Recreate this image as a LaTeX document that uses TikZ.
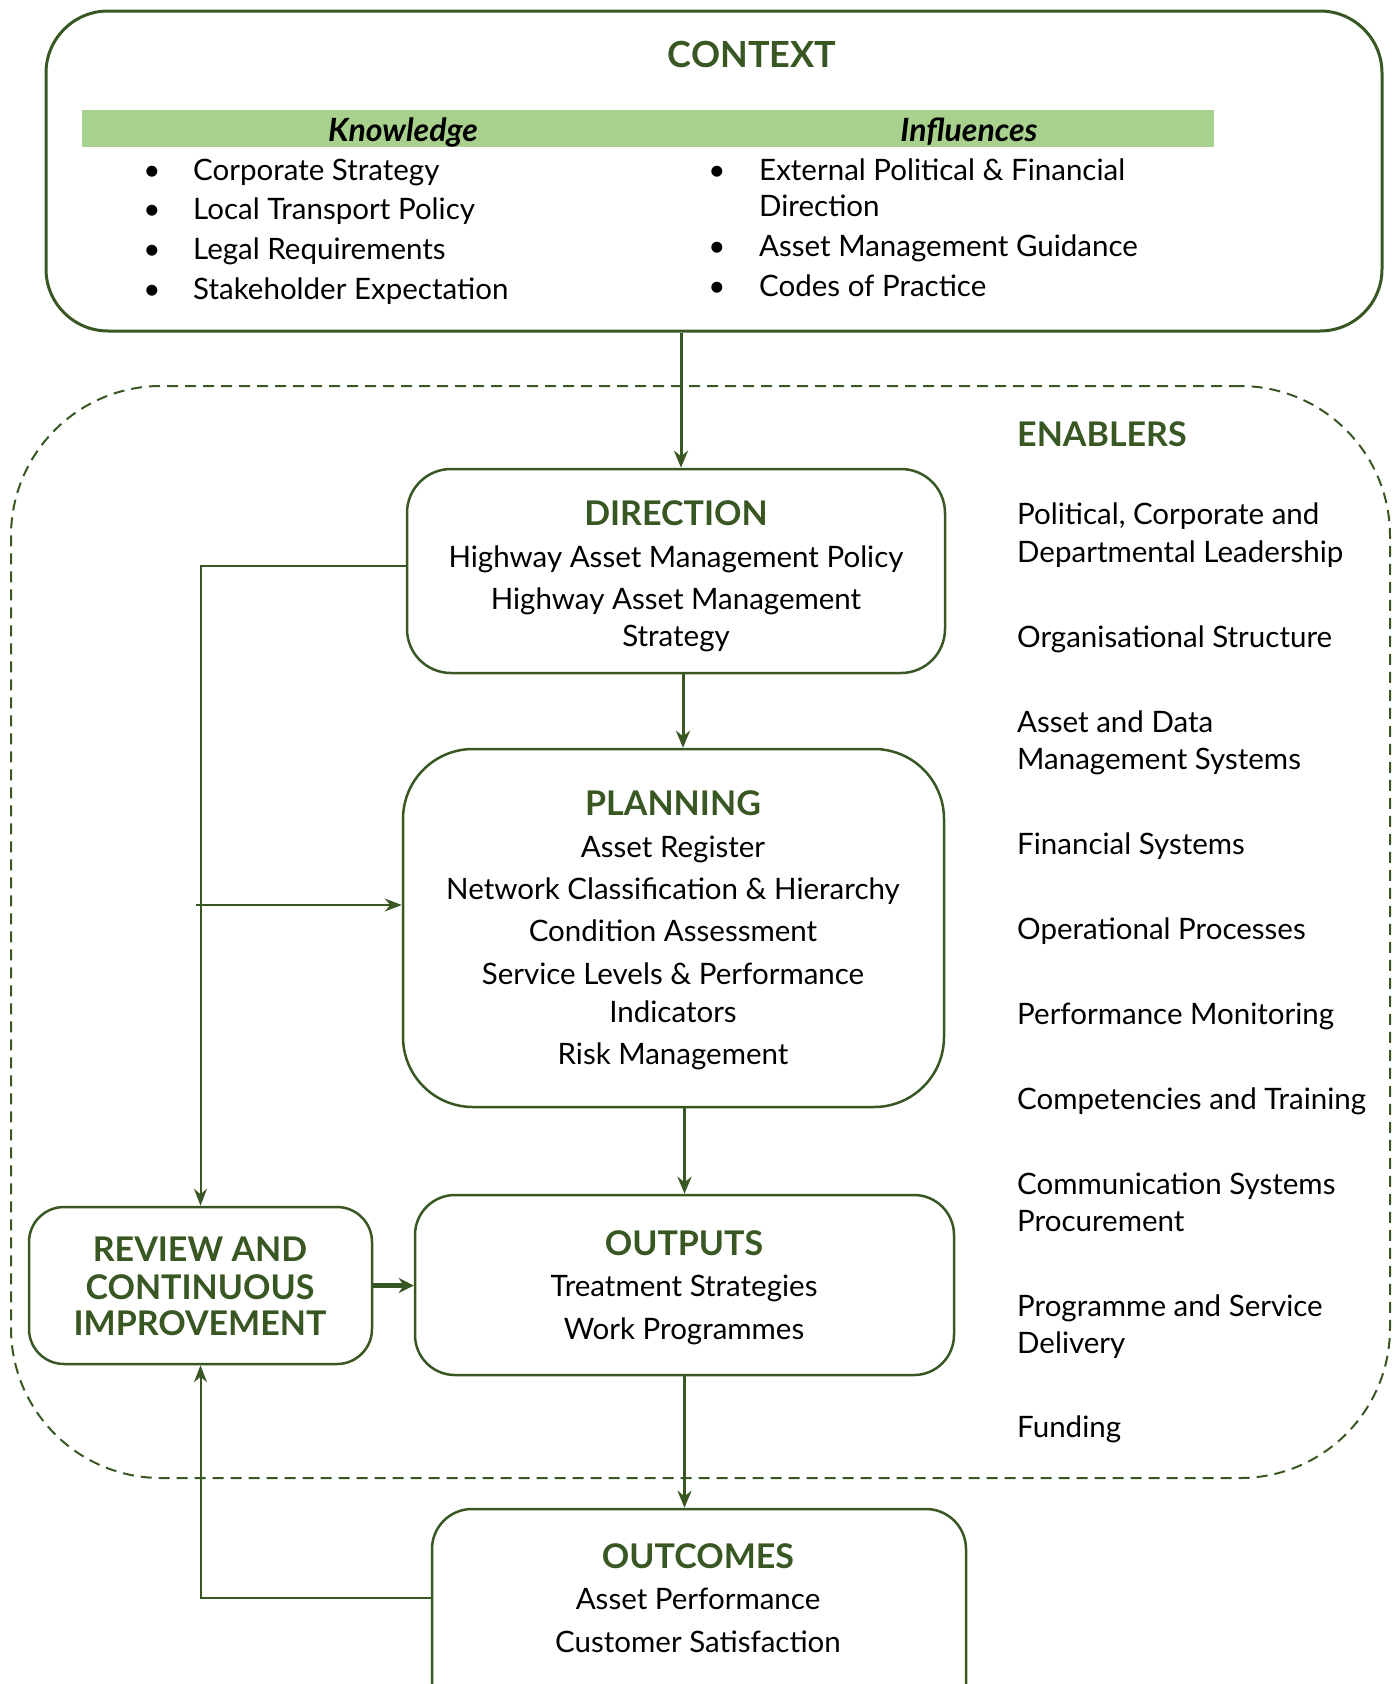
\documentclass[tikz,border=0pt]{standalone}
\usepackage{fontspec}
\setmainfont{Lato}
\usetikzlibrary{arrows.meta}
\definecolor{dkgreen}{HTML}{385723}
\definecolor{ltgreen}{HTML}{A9D18E}
\newcommand{\bodyfnt}{\fontsize{29.5}{35}\selectfont}
\newcommand{\ttlfnt}{\fontsize{34}{40}\selectfont\bfseries}
\begin{document}
\begin{tikzpicture}[x=1pt,y=-1pt,
  box/.style={draw=dkgreen, line width=2.5pt, rounded corners=#1, inner sep=0pt},
  box/.default=42pt,
  ttl/.style={font=\ttlfnt, text=dkgreen, anchor=mid, inner sep=0pt, yshift=-9.5pt},
  txt/.style={font=\bodyfnt, text=black, anchor=mid, inner sep=0pt, yshift=-8pt},
  txtl/.style={txt, anchor=mid west},
  hdr/.style={font=\fontsize{32}{38}\selectfont\bfseries\itshape, anchor=mid, inner sep=0pt, yshift=-8.5pt},
  flow/.style={draw=dkgreen, line width=3pt, -{Stealth[length=17pt,width=14pt]}},
  loopline/.style={draw=dkgreen, line width=2pt, -{Stealth[length=17pt,width=13pt]}},
  wide/.style={draw=dkgreen, line width=5pt, -{Stealth[length=15pt,width=15pt]}}]
\clip (0,0) rectangle (1394,1684);

% enablers region
\node[draw=dkgreen, line width=2pt, dash pattern=on 11pt off 7pt, rounded corners=150pt,
  minimum width=1379pt, minimum height=1092pt, inner sep=0pt] (enab) at (700.5,932) {};

% context box
\node[box=62pt, line width=3pt, minimum width=1336pt, minimum height=320pt] (ctx) at (714,171) {};
\node[fill=ltgreen, minimum width=1132pt, minimum height=37pt, inner sep=0pt] (bar) at (648,128.5) {};
\node[ttl, font=\fontsize{36}{42}\selectfont\bfseries] (ctxT) at (752,55) {CONTEXT};
\node[hdr] (know) at (403,130) {Knowledge};
\node[hdr] (infl) at (969,130) {Influences};
\foreach \t/\y [count=\i] in {Corporate Strategy/170, Local Transport Policy/209,
    Legal Requirements/249, Stakeholder Expectation/289}{
  \node[txt] (kb\i) at (152,\y) {\textbullet};
  \node[txtl] (kt\i) at (193,\y) {\t};
}
\node[txt] (ib1) at (717,170) {\textbullet};
\node[txtl] (it1) at (759,170) {External Political \& Financial};
\node[txtl] (it1b) at (759,206) {Direction};
\node[txt] (ib2) at (717,246) {\textbullet};
\node[txtl] (it2) at (759,246) {Asset Management Guidance};
\node[txt] (ib3) at (717,286) {\textbullet};
\node[txtl] (it3) at (759,286) {Codes of Practice};

% process boxes
\node[box=44pt, minimum width=538pt, minimum height=204pt] (dir) at (676,571) {};
\node[box=70pt, minimum width=541pt, minimum height=358pt] (plan) at (673.5,928) {};
\node[box=40pt, minimum width=539pt, minimum height=180pt] (out) at (684.5,1285) {};
\node[box=35pt, minimum width=343pt, minimum height=157pt] (rev) at (200.5,1285.5) {};
\node[box=40pt, minimum width=534pt, minimum height=221pt] (outc) at (699,1619.5) {};

\node[ttl] (dirT) at (676,513) {DIRECTION};
\node[txt] (dir1) at (676,557) {Highway Asset Management Policy};
\node[txt] (dir2) at (676,599) {Highway Asset Management};
\node[txt] (dir3) at (676,636) {Strategy};

\node[ttl] (planT) at (673,803) {PLANNING};
\node[txt] (plan1) at (673,847) {Asset Register};
\node[txt] (plan2) at (673,889) {Network Classification \& Hierarchy};
\node[txt] (plan3) at (673,931) {Condition Assessment};
\node[txt] (plan4) at (673,974) {Service Levels \& Performance};
\node[txt] (plan5) at (673,1012) {Indicators};
\node[txt] (plan6) at (673,1054) {Risk Management};

\node[ttl] (outT) at (684,1243) {OUTPUTS};
\node[txt] (out1) at (684,1286) {Treatment Strategies};
\node[txt] (out2) at (684,1329) {Work Programmes};

\node[ttl] (rev1) at (200,1249) {REVIEW AND};
\node[ttl] (rev2) at (200,1287) {CONTINUOUS};
\node[ttl] (rev3) at (200,1323) {IMPROVEMENT};

\node[ttl] (outcT) at (698,1556) {OUTCOMES};
\node[txt] (outc1) at (698,1599) {Asset Performance};
\node[txt] (outc2) at (698,1642) {Customer Satisfaction};

% enablers list
\node[ttl, anchor=mid west] (enT) at (1017,434) {ENABLERS};
\foreach \t/\y [count=\i] in {{Political, Corporate and}/514, Departmental Leadership/552,
    Organisational Structure/637, Asset and Data/722, Management Systems/759,
    Financial Systems/844, Operational Processes/929, Performance Monitoring/1014,
    Competencies and Training/1099, Communication Systems/1184, Procurement/1221,
    Programme and Service/1306, Delivery/1343, Funding/1427}{
  \node[txtl] (en\i) at (1017,\y) {\t};
}

% connectors
\draw[flow] ([xshift=5pt]dir.north |- ctx.south) -- ([xshift=5pt]dir.north);
\draw[flow] ([xshift=7pt]dir.south) -- ([xshift=7pt]dir.south |- plan.north);
\draw[flow] (plan.south -| out.north) -- (out.north);
\draw[flow] (out.south) -- (out.south |- outc.north);
\draw[loopline] ([yshift=5pt]dir.west) -| (rev.north);
\coordinate (br) at (196,905);
\draw[loopline] (br) -- (br -| plan.west);
\draw[wide] (rev.east) -- (rev.east -| out.west);
\draw[loopline] ([yshift=21.5pt]outc.west) -| (rev.south);
\end{tikzpicture}
\end{document}
